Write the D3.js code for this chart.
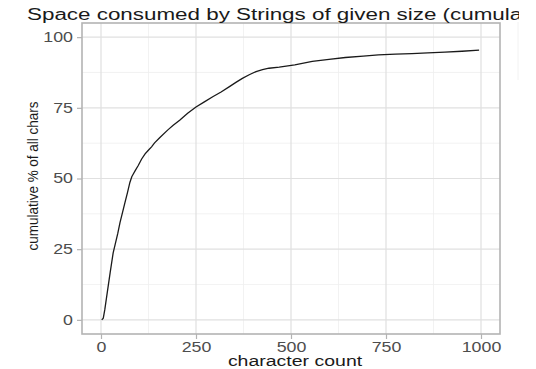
<!DOCTYPE html>
<html>
<head>
<meta charset="utf-8">
<script src="https://cdn.jsdelivr.net/npm/d3@7"></script>
<style>
  body { margin: 0; background: #fff; }
  text { font-family: "Liberation Sans", Arial, sans-serif; }
</style>
</head>
<body>
<script>
// data
const charCount = [2, 6, 10, 15, 24, 32, 37, 44, 50, 57, 63, 70, 76, 81, 85, 90, 98, 107, 116, 124, 133, 141, 155, 176, 190, 207, 228, 250, 272, 294, 316, 338, 355, 372, 390, 408, 425, 442, 469, 510, 556, 600, 643, 690, 730, 775, 818, 860, 905, 950, 995];
const cumPct = [0, 0.6, 3.6, 8.3, 16.6, 23.7, 26.5, 30.5, 34.4, 38.2, 41.5, 45.2, 48.6, 50.6, 51.6, 52.8, 54.6, 56.9, 58.7, 59.9, 61.2, 62.6, 64.5, 67.2, 68.8, 70.6, 73.1, 75.3, 77.1, 78.9, 80.6, 82.5, 84, 85.4, 86.7, 87.8, 88.5, 89, 89.4, 90.2, 91.4, 92.1, 92.8, 93.3, 93.7, 94, 94.2, 94.4, 94.7, 95, 95.4];
const xTicks = [0, 250, 500, 750, 1000];
const yTicks = [0, 25, 50, 75, 100];
const xMinor = [125, 375, 625, 875];
const yMinor = [12.5, 37.5, 62.5, 87.5];

const baseWidth = 536, baseHeight = 369;
const panel = { left: 82, right: 500, top: 23, bottom: 334 };
// the source image stops a bit before the right edge
const imageEdge = 519;
// text in the picture is wider than tall, so stretch it sideways
const stretch = 1.27;

const x = d3.scaleLinear().domain([-50, 1050]).range([panel.left, panel.right]);
const y = d3.scaleLinear().domain([-5, 105]).range([panel.bottom, panel.top]);

const svg = d3
  .select("body")
  .append("svg")
  .attr("width", baseWidth)
  .attr("height", baseHeight);

svg.append("clipPath")
  .attr("id", "edge")
  .append("rect")
  .attr("x", 0).attr("y", 0)
  .attr("width", imageEdge).attr("height", baseHeight);

// grid
const grid = svg.append("g");
grid.selectAll(".vminor").data(xMinor).enter().append("line")
  .attr("x1", (d) => x(d)).attr("x2", (d) => x(d))
  .attr("y1", panel.top).attr("y2", panel.bottom)
  .attr("stroke", "#efefef").attr("stroke-width", 0.8);
grid.selectAll(".hminor").data(yMinor).enter().append("line")
  .attr("y1", (d) => y(d)).attr("y2", (d) => y(d))
  .attr("x1", panel.left).attr("x2", panel.right)
  .attr("stroke", "#efefef").attr("stroke-width", 0.8);
grid.selectAll(".vmajor").data(xTicks).enter().append("line")
  .attr("x1", (d) => x(d)).attr("x2", (d) => x(d))
  .attr("y1", panel.top).attr("y2", panel.bottom)
  .attr("stroke", "#e0e0e0").attr("stroke-width", 1.2);
grid.selectAll(".hmajor").data(yTicks).enter().append("line")
  .attr("y1", (d) => y(d)).attr("y2", (d) => y(d))
  .attr("x1", panel.left).attr("x2", panel.right)
  .attr("stroke", "#e0e0e0").attr("stroke-width", 1.2);

// the curve
const line = d3.line().x((d) => x(d[0])).y((d) => y(d[1]));
svg.append("path")
  .datum(charCount.map((c, i) => [c, cumPct[i]]))
  .attr("d", line)
  .attr("fill", "none")
  .attr("stroke", "#1a1a1a")
  .attr("stroke-width", 1.3);

// panel border
svg.append("rect")
  .attr("x", panel.left).attr("y", panel.top)
  .attr("width", panel.right - panel.left)
  .attr("height", panel.bottom - panel.top)
  .attr("fill", "none")
  .attr("stroke", "#b3b3b3")
  .attr("stroke-width", 1.6);

// faint edge of the source image
svg.append("line")
  .attr("x1", imageEdge - 1).attr("x2", imageEdge - 1)
  .attr("y1", 22).attr("y2", 80)
  .attr("stroke", "#f2f2f2");

// axes
const xAxis = svg.append("g")
  .attr("transform", "translate(0," + panel.bottom + ")")
  .call(d3.axisBottom(x).tickValues(xTicks).tickFormat(d3.format("d")).tickSize(5).tickPadding(3));
const yAxis = svg.append("g")
  .attr("transform", "translate(" + panel.left + ",0)")
  .call(d3.axisLeft(y).tickValues(yTicks).tickFormat(d3.format("d")).tickSize(5).tickPadding(4));

[xAxis, yAxis].forEach((ax) => {
  ax.select(".domain").remove();
  ax.selectAll(".tick line").attr("stroke", "#b3b3b3").attr("stroke-width", 1.2);
  ax.selectAll(".tick text")
    .attr("fill", "#4d4d4d")
    .style("font-size", "14px")
    .attr("font-family", null);
});
xAxis.selectAll(".tick text").attr("transform", "scale(" + stretch + ",1)");
yAxis.selectAll(".tick text")
  .attr("x", -9 / stretch)
  .attr("transform", "scale(" + stretch + ",1)");

// title, cut off at the image edge like the reference
svg.append("g")
  .attr("clip-path", "url(#edge)")
  .append("text")
  .attr("transform", "translate(27,20) scale(1.4,1)")
  .style("font-size", "16px")
  .attr("fill", "#1a1a1a")
  .text("Space consumed by Strings of given size (cumulative)");

// axis titles
svg.append("text")
  .attr("transform", "translate(295,365.5) scale(" + (stretch + 0.03) + ",1)")
  .attr("text-anchor", "middle")
  .style("font-size", "15px")
  .attr("fill", "#1a1a1a")
  .text("character count");

svg.append("text")
  .attr("transform", "translate(38,176) rotate(-90) scale(1,1.15)")
  .attr("text-anchor", "middle")
  .style("font-size", "13.5px")
  .attr("fill", "#1a1a1a")
  .text("cumulative % of all chars");
</script>
</body>
</html>
